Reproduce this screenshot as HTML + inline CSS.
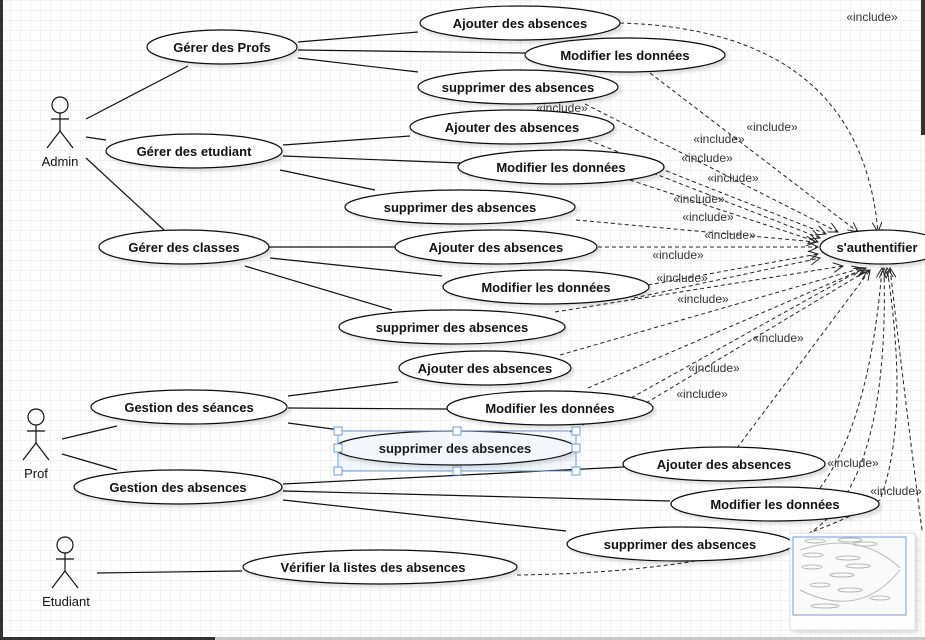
<!DOCTYPE html>
<html><head><meta charset="utf-8"><style>
html,body{margin:0;padding:0;width:925px;height:640px;overflow:hidden;background:#fff}
svg{display:block}
text{font-family:"Liberation Sans",sans-serif}
.u{font-size:13px;font-weight:bold;fill:#111;text-anchor:middle}
.a{font-size:13px;fill:#111;text-anchor:middle}
.i{font-size:12px;fill:#333;text-anchor:middle}
.e{fill:#fff;stroke:#111;stroke-width:1.2}
.l{stroke:#111;stroke-width:1.2;fill:none}
.d{stroke:#222;stroke-width:1;fill:none;stroke-dasharray:4,3;marker-end:url(#ar)}
</style></head><body>
<svg width="925" height="640" viewBox="0 0 925 640" xmlns="http://www.w3.org/2000/svg">
<defs>
<pattern id="g" width="10" height="10" patternUnits="userSpaceOnUse">
<path d="M10 0H0V10" fill="none" stroke="#e6e6e6" stroke-width="1"/>
</pattern>
<marker id="ar" markerWidth="12" markerHeight="10" refX="10" refY="5" orient="auto" markerUnits="userSpaceOnUse">
<path d="M0,0 L10,5 L0,10" fill="none" stroke="#222" stroke-width="1"/>
</marker>
<filter id="sh" x="-10%" y="-20%" width="125%" height="160%"><feDropShadow dx="3" dy="3" stdDeviation="1.5" flood-color="#000" flood-opacity="0.12"/></filter>
</defs>
<rect width="925" height="640" fill="url(#g)"/>
<rect x="0" y="0" width="3" height="640" fill="#333"/>
<rect x="921" y="0" width="4" height="135" fill="#333"/>
<rect x="0" y="637" width="925" height="3" fill="#c8c8c8"/>
<rect x="0" y="637" width="215" height="3" fill="#333"/>

<!-- actor lines -->
<g class="l">
<line x1="86" y1="119" x2="188" y2="66"/>
<line x1="86" y1="137" x2="106" y2="140"/>
<line x1="86" y1="158" x2="164" y2="230"/>
<line x1="298" y1="42" x2="418" y2="32"/>
<line x1="298" y1="50" x2="525" y2="53"/>
<line x1="298" y1="58" x2="418" y2="72"/>
<line x1="283" y1="145" x2="410" y2="136"/>
<line x1="283" y1="156" x2="460" y2="163"/>
<line x1="280" y1="170" x2="375" y2="190"/>
<line x1="269" y1="247" x2="395" y2="247"/>
<line x1="270" y1="258" x2="442" y2="276"/>
<line x1="245" y1="266" x2="392" y2="310"/>
<line x1="62" y1="439" x2="117" y2="426"/>
<line x1="62" y1="454" x2="117" y2="470"/>
<line x1="288" y1="396" x2="398" y2="382"/>
<line x1="288" y1="408" x2="447" y2="409"/>
<line x1="288" y1="423" x2="340" y2="430"/>
<line x1="283" y1="484" x2="624" y2="467"/>
<line x1="283" y1="491" x2="670" y2="501"/>
<line x1="283" y1="500" x2="566" y2="531"/>
<line x1="97" y1="573" x2="242" y2="571"/>
</g>

<!-- dashed include lines -->
<g class="d">
<path d="M620,23 Q 860,30 878,232"/>
<path d="M650,73 L858,232"/>
<path d="M585,104 L838,232"/>
<path d="M588,140 L826,234"/>
<path d="M640,168 L820,238"/>
<path d="M630,180 L818,242"/>
<path d="M576,220 L816,242"/>
<path d="M598,247 L818,247"/>
<path d="M648,285 L818,254"/>
<path d="M634,298 L820,258"/>
<path d="M555,312 L843,266"/>
<path d="M560,355 L862,268"/>
<path d="M588,388 L866,268"/>
<path d="M646,403 L868,270"/>
<path d="M570,432 L864,268"/>
<path d="M737,448 L870,270"/>
<path d="M820,488 Q 870,420 882,268"/>
<path d="M796,540 Q 890,500 884,268"/>
<path d="M517,575 Q 760,572 880,500 Q 910,420 887,268"/>
<path d="M922,530 Q 905,400 890,268"/>
</g>

<!-- include labels -->
<g class="i">
<text x="872" y="21">«include»</text>
<text x="562" y="112">«include»</text>
<text x="772" y="131">«include»</text>
<text x="719" y="143">«include»</text>
<text x="707" y="162">«include»</text>
<text x="733" y="182">«include»</text>
<text x="699" y="203">«include»</text>
<text x="708" y="221">«include»</text>
<text x="730" y="239">«include»</text>
<text x="678" y="259">«include»</text>
<text x="682" y="282">«include»</text>
<text x="703" y="303">«include»</text>
<text x="778" y="342">«include»</text>
<text x="714" y="372">«include»</text>
<text x="702" y="398">«include»</text>
<text x="853" y="467">«include»</text>
<text x="896" y="495">«include»</text>
</g>

<!-- use case ellipses -->
<g filter="url(#sh)">
<ellipse class="e" cx="222" cy="47" rx="75" ry="17"/>
<ellipse class="e" cx="194" cy="151" rx="88" ry="17"/>
<ellipse class="e" cx="184" cy="247" rx="85" ry="17"/>
<ellipse class="e" cx="189" cy="407" rx="98" ry="17"/>
<ellipse class="e" cx="178" cy="487" rx="104" ry="17"/>
<ellipse class="e" cx="380" cy="567" rx="137" ry="17"/>
<ellipse class="e" cx="520" cy="23" rx="100" ry="17"/>
<ellipse class="e" cx="625" cy="55" rx="100" ry="17"/>
<ellipse class="e" cx="518" cy="87" rx="100" ry="17"/>
<ellipse class="e" cx="512" cy="127" rx="102" ry="17"/>
<ellipse class="e" cx="561" cy="167" rx="103" ry="17"/>
<ellipse class="e" cx="460" cy="207" rx="115" ry="17"/>
<ellipse class="e" cx="496" cy="247" rx="101" ry="17"/>
<ellipse class="e" cx="546" cy="287" rx="103" ry="17"/>
<ellipse class="e" cx="452" cy="327" rx="113" ry="17"/>
<ellipse class="e" cx="485" cy="368" rx="86" ry="17"/>
<ellipse class="e" cx="550" cy="408" rx="103" ry="17"/>
<ellipse class="e" cx="455" cy="448" rx="120" ry="17"/>
<ellipse class="e" cx="724" cy="464" rx="101" ry="17"/>
<ellipse class="e" cx="775" cy="504" rx="104" ry="17"/>
<ellipse class="e" cx="680" cy="544" rx="113" ry="17"/>
<ellipse class="e" cx="882" cy="247" rx="62" ry="17"/>
</g>

<g class="u">
<text x="222" y="52">Gérer des Profs</text>
<text x="194" y="156">Gérer des etudiant</text>
<text x="184" y="252">Gérer des classes</text>
<text x="189" y="412">Gestion des séances</text>
<text x="178" y="492">Gestion des absences</text>
<text x="373" y="572">Vérifier la listes des absences</text>
<text x="520" y="28">Ajouter des absences</text>
<text x="625" y="60">Modifier les données</text>
<text x="518" y="92">supprimer des absences</text>
<text x="512" y="132">Ajouter des absences</text>
<text x="561" y="172">Modifier les données</text>
<text x="460" y="212">supprimer des absences</text>
<text x="496" y="252">Ajouter des absences</text>
<text x="546" y="292">Modifier les données</text>
<text x="452" y="332">supprimer des absences</text>
<text x="485" y="373">Ajouter des absences</text>
<text x="550" y="413">Modifier les données</text>
<text x="455" y="453">supprimer des absences</text>
<text x="724" y="469">Ajouter des absences</text>
<text x="775" y="509">Modifier les données</text>
<text x="680" y="549">supprimer des absences</text>
<text x="877" y="252">s'authentifier</text>
</g>

<!-- selection box -->
<g fill="#fff" stroke="#6a9fd8" stroke-width="1">
<rect x="338" y="431" width="238" height="40" fill="rgba(106,159,216,0.08)"/>
<rect x="334" y="427" width="8" height="8"/><rect x="572" y="427" width="8" height="8"/>
<rect x="334" y="467" width="8" height="8"/><rect x="572" y="467" width="8" height="8"/>
<rect x="334" y="444" width="8" height="8"/><rect x="572" y="444" width="8" height="8"/>
<rect x="453" y="427" width="8" height="8"/><rect x="453" y="467" width="8" height="8"/>
</g>

<!-- actors -->
<g class="l">
<circle cx="60" cy="105" r="8"/><line x1="60" y1="113" x2="60" y2="131"/><line x1="51" y1="119" x2="69" y2="119"/><line x1="60" y1="131" x2="47" y2="148"/><line x1="60" y1="131" x2="73" y2="148"/>
<circle cx="36" cy="417" r="8"/><line x1="36" y1="425" x2="36" y2="443"/><line x1="27" y1="431" x2="45" y2="431"/><line x1="36" y1="443" x2="23" y2="460"/><line x1="36" y1="443" x2="49" y2="460"/>
<circle cx="65" cy="545" r="8"/><line x1="65" y1="553" x2="65" y2="571"/><line x1="56" y1="559" x2="74" y2="559"/><line x1="65" y1="571" x2="52" y2="588"/><line x1="65" y1="571" x2="78" y2="588"/>
</g>
<g class="a">
<text x="60" y="166">Admin</text>
<text x="36" y="478">Prof</text>
<text x="66" y="606">Etudiant</text>
</g>

<!-- minimap -->
<rect x="790" y="533" width="125" height="97" fill="#fff" filter="url(#sh)" stroke="#ddd"/>
<rect x="793" y="537" width="113" height="78" fill="#fafafa" stroke="#6a9fd8" stroke-width="1"/>
<g fill="none" stroke="#bbb" stroke-width="1">
<ellipse cx="815" cy="541" rx="10" ry="2"/><ellipse cx="850" cy="540" rx="12" ry="2"/><ellipse cx="865" cy="544" rx="12" ry="2"/>
<ellipse cx="813" cy="555" rx="10" ry="2"/><ellipse cx="848" cy="558" rx="12" ry="2"/><ellipse cx="858" cy="566" rx="12" ry="2"/>
<ellipse cx="812" cy="567" rx="10" ry="2"/><ellipse cx="842" cy="575" rx="12" ry="2"/><ellipse cx="820" cy="585" rx="10" ry="2"/>
<ellipse cx="850" cy="590" rx="12" ry="2"/><ellipse cx="825" cy="606" rx="14" ry="2"/><ellipse cx="880" cy="598" rx="10" ry="2"/>
<path d="M800,550 Q860,530 900,568 M800,590 Q860,620 900,570"/>
</g>
</svg>
</body></html>
